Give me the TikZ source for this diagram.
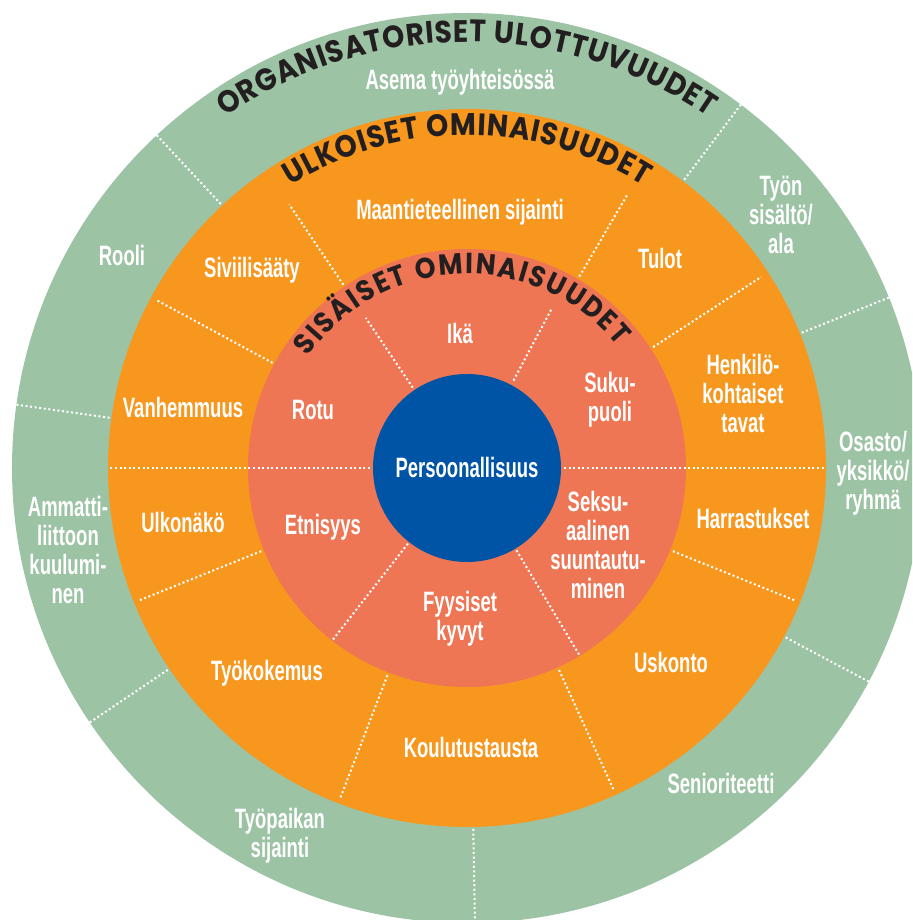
\documentclass[tikz,border=0pt]{standalone}
\usepackage{fontspec}
\setmainfont{Liberation Sans}[FakeStretch=0.66]
\newfontfamily\headfont{Poppins}[FakeStretch=0.91]
\usetikzlibrary{decorations.text}
\definecolor{gr}{HTML}{9DC3A5}
\definecolor{orng}{HTML}{F7971E}
\definecolor{salm}{HTML}{EE7655}
\definecolor{blu}{HTML}{0054A6}
\definecolor{ink}{HTML}{231F20}
\begin{document}
\begin{tikzpicture}[x=1pt,y=1pt,
  lab/.style={text=white, font=\fontsize{28}{29}\selectfont\bfseries, align=center, inner sep=0pt},
  divl/.style={white, line width=2pt, dash pattern=on 2pt off 2.6pt}
  ]
\useasboundingbox (-467,-452) rectangle (445,468);
\begin{scope}
\clip (-467,-452) rectangle (445,468);
\fill[gr] (0,0) circle[radius=455];
\fill[orng] (0,0) circle[radius=359];
\fill[salm] (0,0) circle[radius=219];
\fill[blu] (0,0) circle[radius=94];
% dividers
\foreach \a/\r/\R in {124/97/181, 62/99/180, 232/96/218, 301/96/218,
  0/97/359, 180/97/359,
  124/221/318, 59.6/222/317, 151.6/221/353, 202/222/355, 249/222/353, 294.5/222/353, 338/222/353, 33/222/351,
  133/361/455, 172/361/455, 214/361/455, 271/361/455, 332/361/455, 22/361/455, 53/361/455}
  \draw[divl] (\a:\r) -- (\a:\R);
\end{scope}
% headings
\path[decorate, decoration={text along path, text align={fit to path},
  text={|\headfont\bfseries\fontsize{31}{31}\selectfont\color{ink}|ORGANISATORISET ULOTTUVUUDET}}]
  (124.5:426) arc[start angle=124.5, end angle=55.5, radius=426];
\path[decorate, decoration={text along path, text align={fit to path},
  text={|\headfont\bfseries\fontsize{31}{31}\selectfont\color{ink}|ULKOISET OMINAISUUDET}}]
  (122:333) arc[start angle=122, end angle=58, radius=333];
\path[decorate, decoration={text along path, text align={fit to path},
  text={|\headfont\bfseries\fontsize{29}{29}\selectfont\color{ink}|SISÄISET OMINAISUUDET}}]
  (145:194) arc[start angle=145, end angle=39, radius=194];
% labels
\node[lab] (asema) at (-7,386) {Asema työyhteisössä};
\node[lab] (rooli) at (-345,213) {Rooli};
\node[lab] (ammatti) at (-399,-82) {Ammatti-\\liittoon\\kuulumi-\\nen};
\node[lab] (tyopaikka) at (-187,-368) {Työpaikan\\sijainti};
\node[lab] (senior) at (254,-315) {Senioriteetti};
\node[lab] (osasto) at (406,-5) {Osasto/\\yksikkö/\\ryhmä};
\node[lab] (tyon) at (314,253) {Työn\\sisältö/\\ala};
\node[lab] (maant) at (-7,256) {Maantieteellinen sijainti};
\node[lab] (sivi) at (-215,198) {Siviilisääty};
\node[lab] (vanh) at (-284,61) {Vanhemmuus};
\node[lab] (ulko) at (-284,-54) {Ulkonäkö};
\node[lab] (tyok) at (-200,-205) {Työkokemus};
\node[lab] (koul) at (4,-279) {Koulutustausta};
\node[lab] (usk) at (204,-194) {Uskonto};
\node[lab] (harr) at (286,-50) {Harrastukset};
\node[lab] (henk) at (276,75) {Henkilö-\\kohtaiset\\tavat};
\node[lab] (tulot) at (193,210) {Tulot};
\node[lab] (ika) at (-7,135) {Ikä};
\node[lab] (suku) at (143,68) {Suku-\\puoli};
\node[lab] (rotu) at (-154,58) {Rotu};
\node[lab] (etn) at (-144,-59) {Etnisyys};
\node[lab] (fyys) at (-7,-151) {Fyysiset\\kyvyt};
\node[lab] (seks) at (131,-77) {Seksu-\\aalinen\\suuntautu-\\minen};
\node[lab] (pers) at (0,1) {Persoonallisuus};
\end{tikzpicture}
\end{document}
